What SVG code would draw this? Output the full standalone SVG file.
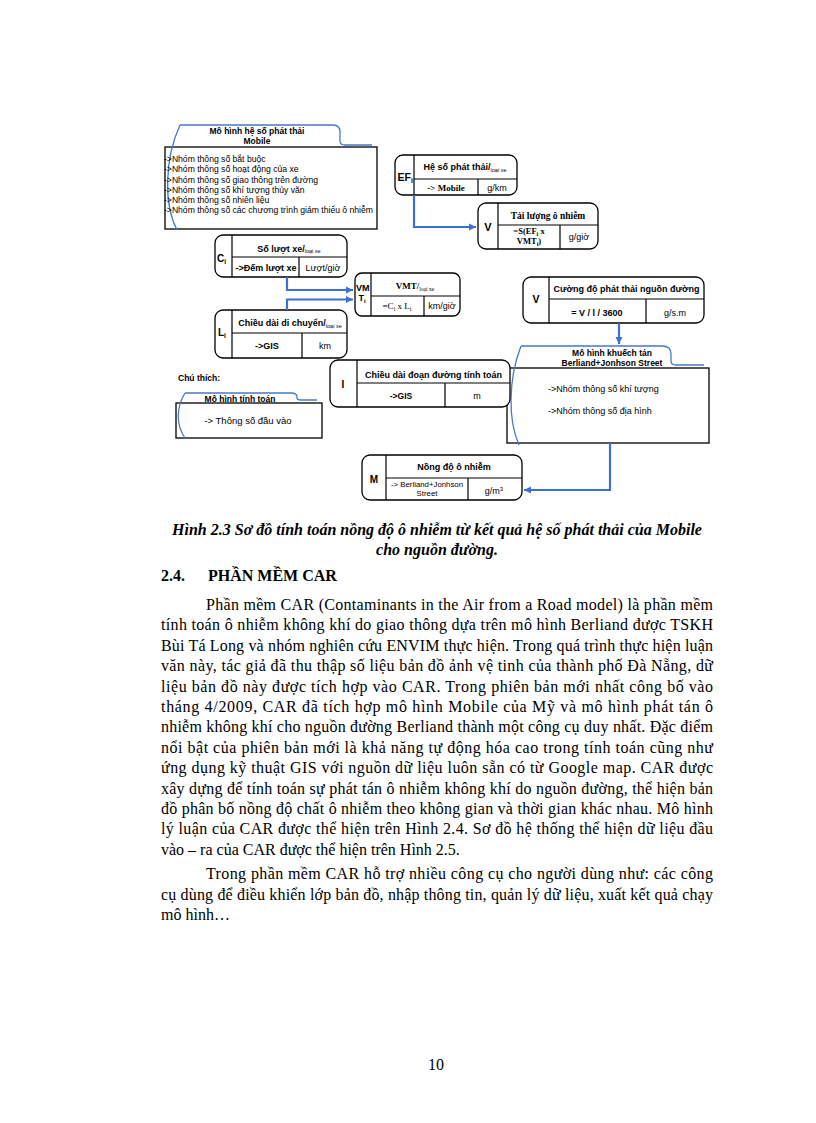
<svg xmlns="http://www.w3.org/2000/svg" width="816" height="1123" viewBox="0 0 816 1123">
<defs>
<marker id="ah" markerUnits="userSpaceOnUse" markerWidth="8" markerHeight="8" refX="7" refY="4" orient="auto">
<path d="M0,0.5 L7,4 L0,7.5 Z" fill="#3d6fd6"/>
</marker>
<style>
.box{fill:#fff;stroke:#000;stroke-width:1.3}
.ln{stroke:#000;stroke-width:1.2;fill:none}
.tab{fill:none;stroke:#4a78c8;stroke-width:1.3}
.conn{fill:none;stroke:#3d6fd6;stroke-width:2.2}
.s{font-family:'Liberation Sans',Arial,sans-serif;fill:#000}
.b{font-weight:bold}
.r{font-family:'Liberation Serif','Times New Roman',serif;fill:#000}
.m{text-anchor:middle}
.li{font-family:'Liberation Sans',Arial,sans-serif;font-size:8.6px;fill:#000}
.body{font-family:'Liberation Serif','Times New Roman',serif;font-size:16px;fill:#000}
</style>
</defs>
<rect width="816" height="1123" fill="#fff"/>

<g id="mobile">
<rect x="165" y="147" width="212" height="82" fill="#fff" stroke="#000" stroke-width="1.3"/>
<path class="tab" d="M180,125 L333,125 Q340,125 340,132 L340,141 Q340,145 345,145 L372,145"/>
<path class="tab" d="M180,125 C164,160 164,205 177,230"/>
<text class="s b m" x="257" y="134" font-size="8.5">Mô hình hệ số phát thải</text>
<text class="s b m" x="257" y="144" font-size="8.5">Mobile</text>
<text class="li" x="164" y="162">->Nhóm thông số bắt buộc</text>
<text class="li" x="164" y="172">->Nhóm thông số hoạt động của xe</text>
<text class="li" x="164" y="182.5">->Nhóm thông số giao thông trên đường</text>
<text class="li" x="164" y="192.5">->Nhóm thông số khí tượng thủy văn</text>
<text class="li" x="164" y="203">->Nhóm thông số nhiên liệu</text>
<text class="li" x="164" y="213">->Nhóm thông số các chương trình giảm thiểu ô nhiễm</text>
</g>

<g id="ef">
<rect class="box" x="395" y="155" width="122" height="40" rx="8"/>
<path class="ln" d="M414,155 V195 M414,179 H517 M478,179 V195"/>
<text class="s b" x="397.5" y="181" font-size="10.5">EF<tspan font-size="7" dy="2">i</tspan></text>
<text class="s b m" x="465" y="170" font-size="9">Hệ số phát thải/<tspan font-size="5.5" font-weight="normal" dy="1.5">loại xe</tspan></text>
<text class="r b m" x="446" y="190.5" font-size="9">-&gt; Mobile</text>
<text class="s m" x="497" y="190.5" font-size="9">g/km</text>
</g>

<g id="v-tailuong">
<rect class="box" x="478" y="203" width="120" height="46" rx="8"/>
<path class="ln" d="M498,203 V249 M498,225 H598 M560,225 V249"/>
<text class="s b m" x="488" y="230.5" font-size="11">V</text>
<text class="r b m" x="548" y="219" font-size="9.5">Tải lượng ô nhiễm</text>
<text class="r b m" x="529" y="234" font-size="8.5">=S(EF<tspan font-size="6" dy="1.5">i</tspan><tspan dy="-1.5"> x</tspan></text>
<text class="r b m" x="529" y="244" font-size="8.5">VMT<tspan font-size="6" dy="1.5">i</tspan><tspan dy="-1.5">)</tspan></text>
<text class="s m" x="579" y="240" font-size="9">g/giờ</text>
</g>

<g id="c">
<rect class="box" x="215" y="235" width="132" height="42" rx="8"/>
<path class="ln" d="M232,235 V277 M232,257 H347 M299,257 V277"/>
<text class="s b" x="217" y="262" font-size="10">C<tspan font-size="6.5" dy="2">i</tspan></text>
<text class="s b m" x="289" y="251.5" font-size="9">Số lượt xe/<tspan font-size="5.5" font-weight="normal" dy="1.5">loại xe</tspan></text>
<text class="s b m" x="266" y="271" font-size="9">->Đếm lượt xe</text>
<text class="s m" x="323" y="271" font-size="9">Lượt/giờ</text>
</g>

<g id="l">
<rect class="box" x="215" y="310" width="132" height="48" rx="8"/>
<path class="ln" d="M232,310 V358 M232,333 H347 M302,333 V358"/>
<text class="s b" x="218" y="336" font-size="10">L<tspan font-size="6.5" dy="2">i</tspan></text>
<text class="s b m" x="290" y="326" font-size="9">Chiều dài di chuyển/<tspan font-size="5.5" font-weight="normal" dy="1.5">loại xe</tspan></text>
<text class="s b m" x="267" y="349" font-size="9">->GIS</text>
<text class="s m" x="325" y="349" font-size="9">km</text>
</g>

<g id="vmt">
<rect class="box" x="355" y="273" width="105" height="43" rx="7"/>
<path class="ln" d="M371,273 V316 M371,296 H460 M424,296 V316"/>
<text class="s b" x="356" y="291" font-size="9">VM</text>
<text class="s b" x="358.5" y="301" font-size="9">T<tspan font-size="6" dy="1.5">i</tspan></text>
<text class="r b m" x="415" y="289" font-size="9">VMT/<tspan font-size="5.5" font-weight="normal" dy="1.5">loại xe</tspan></text>
<text class="r m" x="397" y="309" font-size="9">=C<tspan font-size="6" dy="1.5">i</tspan><tspan dy="-1.5"> x L</tspan><tspan font-size="6" dy="1.5">i</tspan></text>
<text class="s m" x="442" y="309" font-size="9">km/giờ</text>
</g>

<g id="v-cuongdo">
<rect class="box" x="523" y="277" width="181" height="46" rx="8"/>
<path class="ln" d="M549,277 V323 M549,299 H704 M646,299 V323"/>
<text class="s b m" x="536" y="302.5" font-size="10.5">V</text>
<text class="s b m" x="626.5" y="292" font-size="9">Cường độ phát thải nguồn đường</text>
<text class="s b m" x="597" y="315.5" font-size="9">= V / l / 3600</text>
<text class="s m" x="675" y="315.5" font-size="9">g/s.m</text>
</g>

<g id="berliand">
<rect x="507" y="368" width="202" height="75" fill="#fff" stroke="#000" stroke-width="1.3"/>
<path class="tab" d="M521,346 L662,346 Q671,346 671,354 L671,361 Q671,365 676,365 L704,365"/>
<path class="tab" d="M521,346 C508,380 508,420 519,445"/>
<text class="s b m" x="612" y="356" font-size="8.5">Mô hình khuếch tán</text>
<text class="s b m" x="612" y="366" font-size="8.5">Berliand+Jonhson Street</text>
<text class="s" x="548" y="391.5" font-size="9">->Nhóm thông số khí tượng</text>
<text class="s" x="548" y="414" font-size="9">->Nhóm thông số địa hình</text>
</g>

<g id="legend">
<text class="s b" x="178" y="380.5" font-size="8.5">Chú thích:</text>
<rect x="176" y="403" width="146" height="35" fill="#fff" stroke="#000" stroke-width="1.3"/>
<path class="tab" d="M185,393 L291,393 Q297,393 297,397 L297,398 Q297,400 301,400 L317,400"/>
<path class="tab" d="M185,393 C176,408 176,425 185,438"/>
<text class="s b m" x="240" y="401.5" font-size="8.5">Mô hình tính toán</text>
<text class="s m" x="248" y="424" font-size="9.5">-&gt; Thông số đầu vào</text>
</g>

<g id="i">
<rect class="box" x="330" y="360" width="180" height="47" rx="8"/>
<path class="ln" d="M357,360 V407 M357,383 H510 M445,383 V407"/>
<text class="s b m" x="343" y="388" font-size="10">I</text>
<text class="s b m" x="433.5" y="377.5" font-size="9">Chiều dài đoạn đường tính toán</text>
<text class="s b m" x="401" y="399" font-size="8.5">->GIS</text>
<text class="s m" x="477" y="399" font-size="9">m</text>
</g>

<g id="m">
<rect class="box" x="362" y="455" width="160" height="45" rx="8"/>
<path class="ln" d="M386,455 V500 M386,478 H522 M468,478 V500"/>
<text class="s b m" x="374" y="483" font-size="10">M</text>
<text class="s b m" x="454" y="469.5" font-size="9">Nồng độ ô nhiễm</text>
<text class="s m" x="427" y="487" font-size="7.8">-&gt; Berliand+Jonhson</text>
<text class="s m" x="427" y="496" font-size="7.8">Street</text>
<text class="s m" x="494" y="494" font-size="9">g/m<tspan font-size="6" dy="-3.5">3</tspan></text>
</g>

<g id="connectors">
<path class="conn" d="M414,195 V227 H476" marker-end="url(#ah)"/>
<path class="conn" d="M287,277 V290 H353" marker-end="url(#ah)"/>
<path class="conn" d="M287,310 V299.5 H353" marker-end="url(#ah)"/>
<path class="conn" d="M619,323 V344" marker-end="url(#ah)"/>
<path class="conn" d="M610,443 V490 H524" marker-end="url(#ah)"/>
</g>

<g id="caption">
<text class="r b m" font-style="italic" x="437" y="535" font-size="16">Hình 2.3 Sơ đồ tính toán nồng độ ô nhiễm từ kết quả hệ số phát thải của Mobile</text>
<text class="r b m" font-style="italic" x="437" y="555" font-size="16">cho nguồn đường.</text>
<text class="r b" x="161" y="581" font-size="16">2.4.</text>
<text class="r b" x="208" y="581" font-size="16">PHẦN MỀM CAR</text>
</g>

<g id="body">
<text class="body" x="206" y="610" textLength="507" lengthAdjust="spacing">Phần mềm CAR (Contaminants in the Air from a Road model) là phần mềm</text>
<text class="body" x="161" y="630.4" textLength="552" lengthAdjust="spacing">tính toán ô nhiễm không khí do giao thông dựa trên mô hình Berliand được TSKH</text>
<text class="body" x="161" y="650.8" textLength="552" lengthAdjust="spacing">Bùi Tá Long và nhóm nghiên cứu ENVIM thực hiện. Trong quá trình thực hiện luận</text>
<text class="body" x="161" y="671.2" textLength="552" lengthAdjust="spacing">văn này, tác giả đã thu thập số liệu bản đồ ảnh vệ tinh của thành phố Đà Nẵng, dữ</text>
<text class="body" x="161" y="691.6" textLength="552" lengthAdjust="spacing">liệu bản đồ này được tích hợp vào CAR. Trong phiên bản mới nhất công bố vào</text>
<text class="body" x="161" y="712" textLength="552" lengthAdjust="spacing">tháng 4/2009, CAR đã tích hợp mô hình Mobile của Mỹ và mô hình phát tán ô</text>
<text class="body" x="161" y="732.4" textLength="552" lengthAdjust="spacing">nhiễm không khí cho nguồn đường Berliand thành một công cụ duy nhất. Đặc điểm</text>
<text class="body" x="161" y="752.8" textLength="552" lengthAdjust="spacing">nổi bật của phiên bản mới là khả năng tự động hóa cao trong tính toán cũng như</text>
<text class="body" x="161" y="773.2" textLength="552" lengthAdjust="spacing">ứng dụng kỹ thuật GIS với nguồn dữ liệu luôn sẵn có từ  Google map. CAR được</text>
<text class="body" x="161" y="793.6" textLength="552" lengthAdjust="spacing">xây dựng để tính toán sự phát tán ô nhiễm không khí do nguồn đường, thể hiện bản</text>
<text class="body" x="161" y="814" textLength="552" lengthAdjust="spacing">đồ phân bố nồng độ chất ô nhiễm theo không gian và thời gian khác nhau.  Mô hình</text>
<text class="body" x="161" y="834.4" textLength="552" lengthAdjust="spacing">lý luận của CAR được thể hiện trên Hình 2.4. Sơ đồ hệ thống thể hiện dữ liệu đầu</text>
<text class="body" x="161" y="854.8">vào – ra của CAR được thể hiện trên Hình 2.5.</text>
<text class="body" x="206" y="879.2" textLength="507" lengthAdjust="spacing">Trong phần mềm CAR hỗ trợ nhiều công cụ cho người dùng như: các công</text>
<text class="body" x="161" y="899.6" textLength="552" lengthAdjust="spacing">cụ dùng để điều khiển lớp bản đồ, nhập thông tin, quản lý dữ liệu, xuất kết quả chạy</text>
<text class="body" x="161" y="920">mô hình…</text>
<text class="body" x="436" y="1070" text-anchor="middle">10</text>
</g>
</svg>
